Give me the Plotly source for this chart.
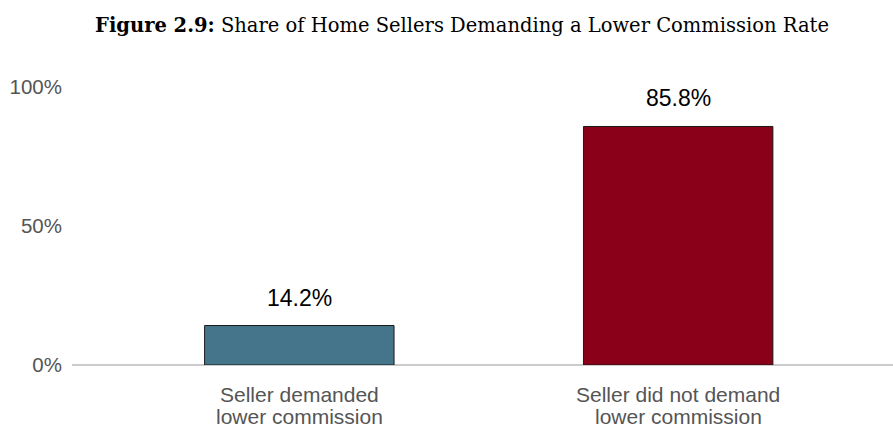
import plotly.graph_objects as go

categories = ["Seller demanded<br>lower commission", "Seller did not demand<br>lower commission"]
shares = [14.2, 85.8]
bar_colors = ["#44758a", "#8a0019"]
y_ticks = [0, 50, 100]
y_tick_labels = ["0%", "50%", "100%"]

fig = go.Figure()
fig.add_trace(go.Bar(
    x=[0, 1], y=shares, width=0.5,
    marker=dict(color=bar_colors, line=dict(color="#1a1a1a", width=1)),
    hoverinfo="skip",
))

# value labels above the bars
for i, v in enumerate(shares):
    fig.add_annotation(x=i, y=v, text=f"{v:.1f}%", showarrow=False,
                       yanchor="bottom", yshift=13,
                       font=dict(family="Liberation Sans", size=23, color="#000000"))

# category labels, one annotation per line to keep the tight line spacing
for i, cat in enumerate(categories):
    for j, line in enumerate(cat.split("<br>")):
        fig.add_annotation(x=i, y=0, yref="paper", text=line, showarrow=False,
                           yanchor="middle", yshift=-29 - 22 * j, borderpad=0,
                           font=dict(family="Liberation Sans", size=21, color="#555555"))

fig.update_layout(
    width=893, height=426,
    margin=dict(l=72, r=0, t=87, b=61),
    paper_bgcolor="white", plot_bgcolor="white",
    showlegend=False,
    title=dict(text="<b>Figure 2.9:</b> Share of Home Sellers Demanding a Lower Commission Rate",
               x=462 / 893, xanchor="center", y=1 - 25 / 426, yanchor="middle",
               font=dict(family="DejaVu Serif", size=19.5, color="#000000")),
    xaxis=dict(range=[-0.6, 1.567], tickvals=[0, 1], showticklabels=False,
               showgrid=False, zeroline=False, showline=False, ticks=""),
    yaxis=dict(range=[0, 100], tickvals=y_ticks, ticktext=y_tick_labels,
               showgrid=False, zeroline=True, zerolinecolor="#cccccc", zerolinewidth=1.5,
               showline=False, ticks="", ticklabelstandoff=9,
               tickfont=dict(family="Liberation Sans", size=20.5, color="#555555")),
)

fig.write_html("out.html", config={"displayModeBar": False},
               post_script="document.body.style.margin='0';")
